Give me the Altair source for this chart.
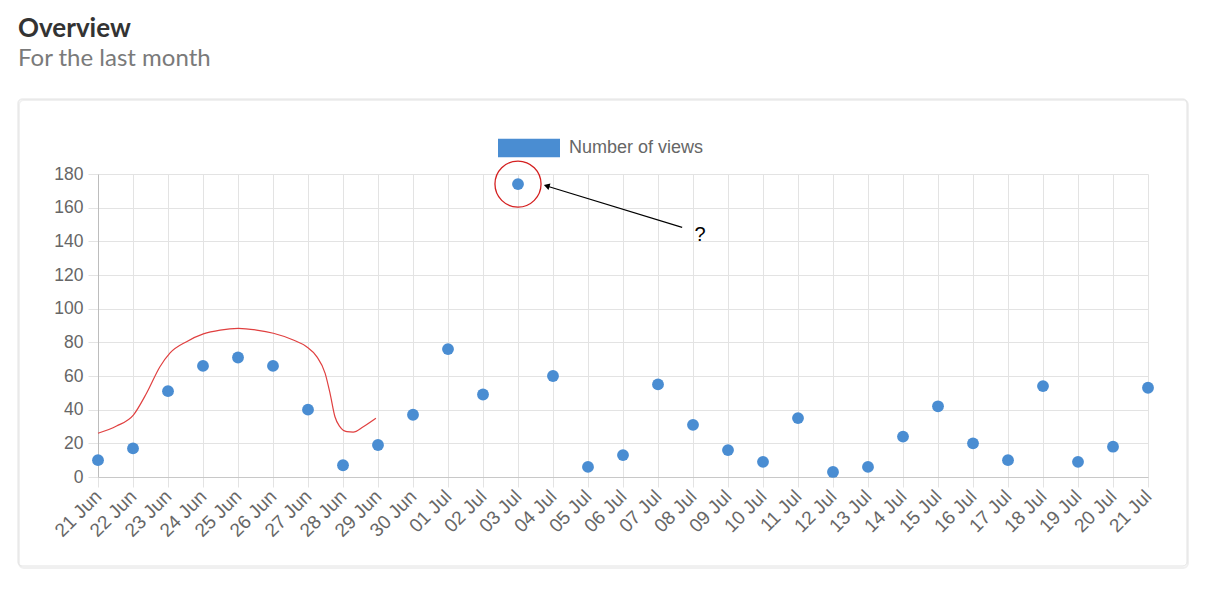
import altair as alt
import pandas as pd

# ---- data ----
labels = ["21 Jun", "22 Jun", "23 Jun", "24 Jun", "25 Jun", "26 Jun", "27 Jun", "28 Jun",
          "29 Jun", "30 Jun", "01 Jul", "02 Jul", "03 Jul", "04 Jul", "05 Jul", "06 Jul",
          "07 Jul", "08 Jul", "09 Jul", "10 Jul", "11 Jul", "12 Jul", "13 Jul", "14 Jul",
          "15 Jul", "16 Jul", "17 Jul", "18 Jul", "19 Jul", "20 Jul", "21 Jul"]
views = [10, 17, 51, 66, 71, 66, 40, 7, 19, 37, 76, 49, 174, 60, 6, 13, 55, 31, 16, 9,
         35, 3, 6, 24, 42, 20, 10, 54, 9, 18, 53]
series_name = "Number of views"

# hand-drawn red sketch (x = day index, y = views)
sketch_x = [0.0, 0.53, 1.01, 1.39, 1.77, 2.06, 2.53, 3.01, 3.49, 4.01, 4.53, 5.01, 5.58,
            5.96, 6.25, 6.49, 6.63, 6.77, 6.91, 7.11, 7.29, 7.58, 7.94]
sketch_y = [26.0, 30.3, 36.8, 49.9, 65.5, 73.7, 80.4, 85.0, 87.3, 88.3, 87.3, 85.4, 81.4,
            77.4, 71.5, 61.6, 49.7, 35.8, 29.9, 26.9, 26.7, 29.9, 34.9]

# highlighted outlier and arrow annotation
highlight_idx = [12]
arrow_x = [16.69, 12.82]
arrow_y = [148.3, 172.9]
note_x = [17.2]
note_y = [143.8]
note_text = ["?"]

y_ticks = list(range(0, 181, 20))

# ---- tables ----
df = pd.DataFrame({"i": list(range(len(labels))), "label": labels, "views": views,
                   "series": [series_name] * len(labels)})
df_sketch = pd.DataFrame({"x": sketch_x, "y": sketch_y, "o": list(range(len(sketch_x)))})
df_hl = df.iloc[highlight_idx]
df_arrow = pd.DataFrame({"x": arrow_x, "y": arrow_y, "o": [0, 1]})
df_tip = pd.DataFrame({"x": arrow_x[-1:], "y": arrow_y[-1:]})
df_note = pd.DataFrame({"x": note_x, "y": note_y, "t": note_text})

W, H = 1050, 303
label_expr = "[" + ",".join("'" + l + "'" for l in labels) + "][datum.value]"

x_scale = alt.Scale(domain=[0, len(labels) - 1], nice=False, zero=False)
y_scale = alt.Scale(domain=[0, 180], nice=False)

x_axis = alt.Axis(values=list(range(len(labels))), labelExpr=label_expr, labelAngle=315,
                  labelAlign="right", labelBaseline="middle", labelPadding=6, title=None,
                  domainColor="#c8c8c8", labelOverlap=False, labelFontSize=19)
y_axis = alt.Axis(values=y_ticks, title=None, labelPadding=5, domainColor="#bdbdbd",
                  labelOverlap=False, labelFontSize=17.5)


def X(field):
    return alt.X(field, scale=x_scale, axis=x_axis)


def Y(field):
    return alt.Y(field, scale=y_scale, axis=y_axis)


frame = pd.DataFrame({"k": [0]})
shadow = alt.Chart(frame).mark_rect(fill="white", fillOpacity=0, stroke="#f0f0f0",
                                    strokeWidth=2, cornerRadius=5).encode(
    x=alt.value(-79), x2=alt.value(1090), y=alt.value(-74), y2=alt.value(394))
card = alt.Chart(frame).mark_rect(fill="white", fillOpacity=0, stroke="#e2e2e2",
                                  strokeWidth=1, cornerRadius=4).encode(
    x=alt.value(-80), x2=alt.value(1089), y=alt.value(-75), y2=alt.value(392))

points = alt.Chart(df).mark_circle(size=140, opacity=1).encode(
    x=X("i:Q"),
    y=Y("views:Q"),
    color=alt.Color("series:N", scale=alt.Scale(range=["#4a8dd2"]),
                    legend=alt.Legend(title=None, orient="none", legendX=400, legendY=-57,
                                      symbolType="M-1,-0.3H1V0.3H-1Z", symbolSize=3844,
                                      symbolStrokeWidth=0, labelFontSize=18,
                                      labelFont="Liberation Sans", labelColor="#666",
                                      labelOffset=9, padding=0)),
)

sketch = alt.Chart(df_sketch).mark_line(color="#e04040", strokeWidth=1.2,
                                        interpolate="monotone").encode(
    x=X("x:Q"), y=Y("y:Q"), order="o:Q")

hl = alt.Chart(df_hl).mark_point(shape="circle", size=2124, filled=False, color="#d42020",
                                 strokeWidth=1.3, opacity=1).encode(
    x=X("i:Q"), y=Y("views:Q"))

arrow = alt.Chart(df_arrow).mark_line(color="black", strokeWidth=1.1).encode(
    x=X("x:Q"), y=Y("y:Q"), order="o:Q")

tip = alt.Chart(df_tip).mark_point(shape="triangle-up", size=45, filled=True, color="black",
                                   angle=287, opacity=1).encode(
    x=X("x:Q"), y=Y("y:Q"))

note = alt.Chart(df_note).mark_text(fontSize=20, font="Liberation Sans", color="black").encode(
    x=X("x:Q"), y=Y("y:Q"), text="t:N")

chart = alt.layer(points, shadow, card, sketch, hl, arrow, tip, note).properties(
    width=W, height=H,
    autosize=alt.AutoSizeParams(type="none"),
    padding={"left": 90, "top": 166, "right": 50, "bottom": 105},
    title=alt.TitleParams(text="Overview", subtitle="For the last month", anchor="start",
                          frame="group", dx=-80, offset=28, font="Lato", fontSize=26,
                          fontWeight="bold", color="#333333", subtitleFont="Lato",
                          subtitleFontSize=24, subtitleColor="#7a7a7a", subtitlePadding=5),
).configure_view(strokeWidth=0).configure_axis(
    gridColor="#e3e3e3", tickColor="#e3e3e3", tickSize=10, labelFont="Liberation Sans",
    labelColor="#666666", grid=True
)

chart.save("out.html", embed_options={"renderer": "svg", "actions": False})
